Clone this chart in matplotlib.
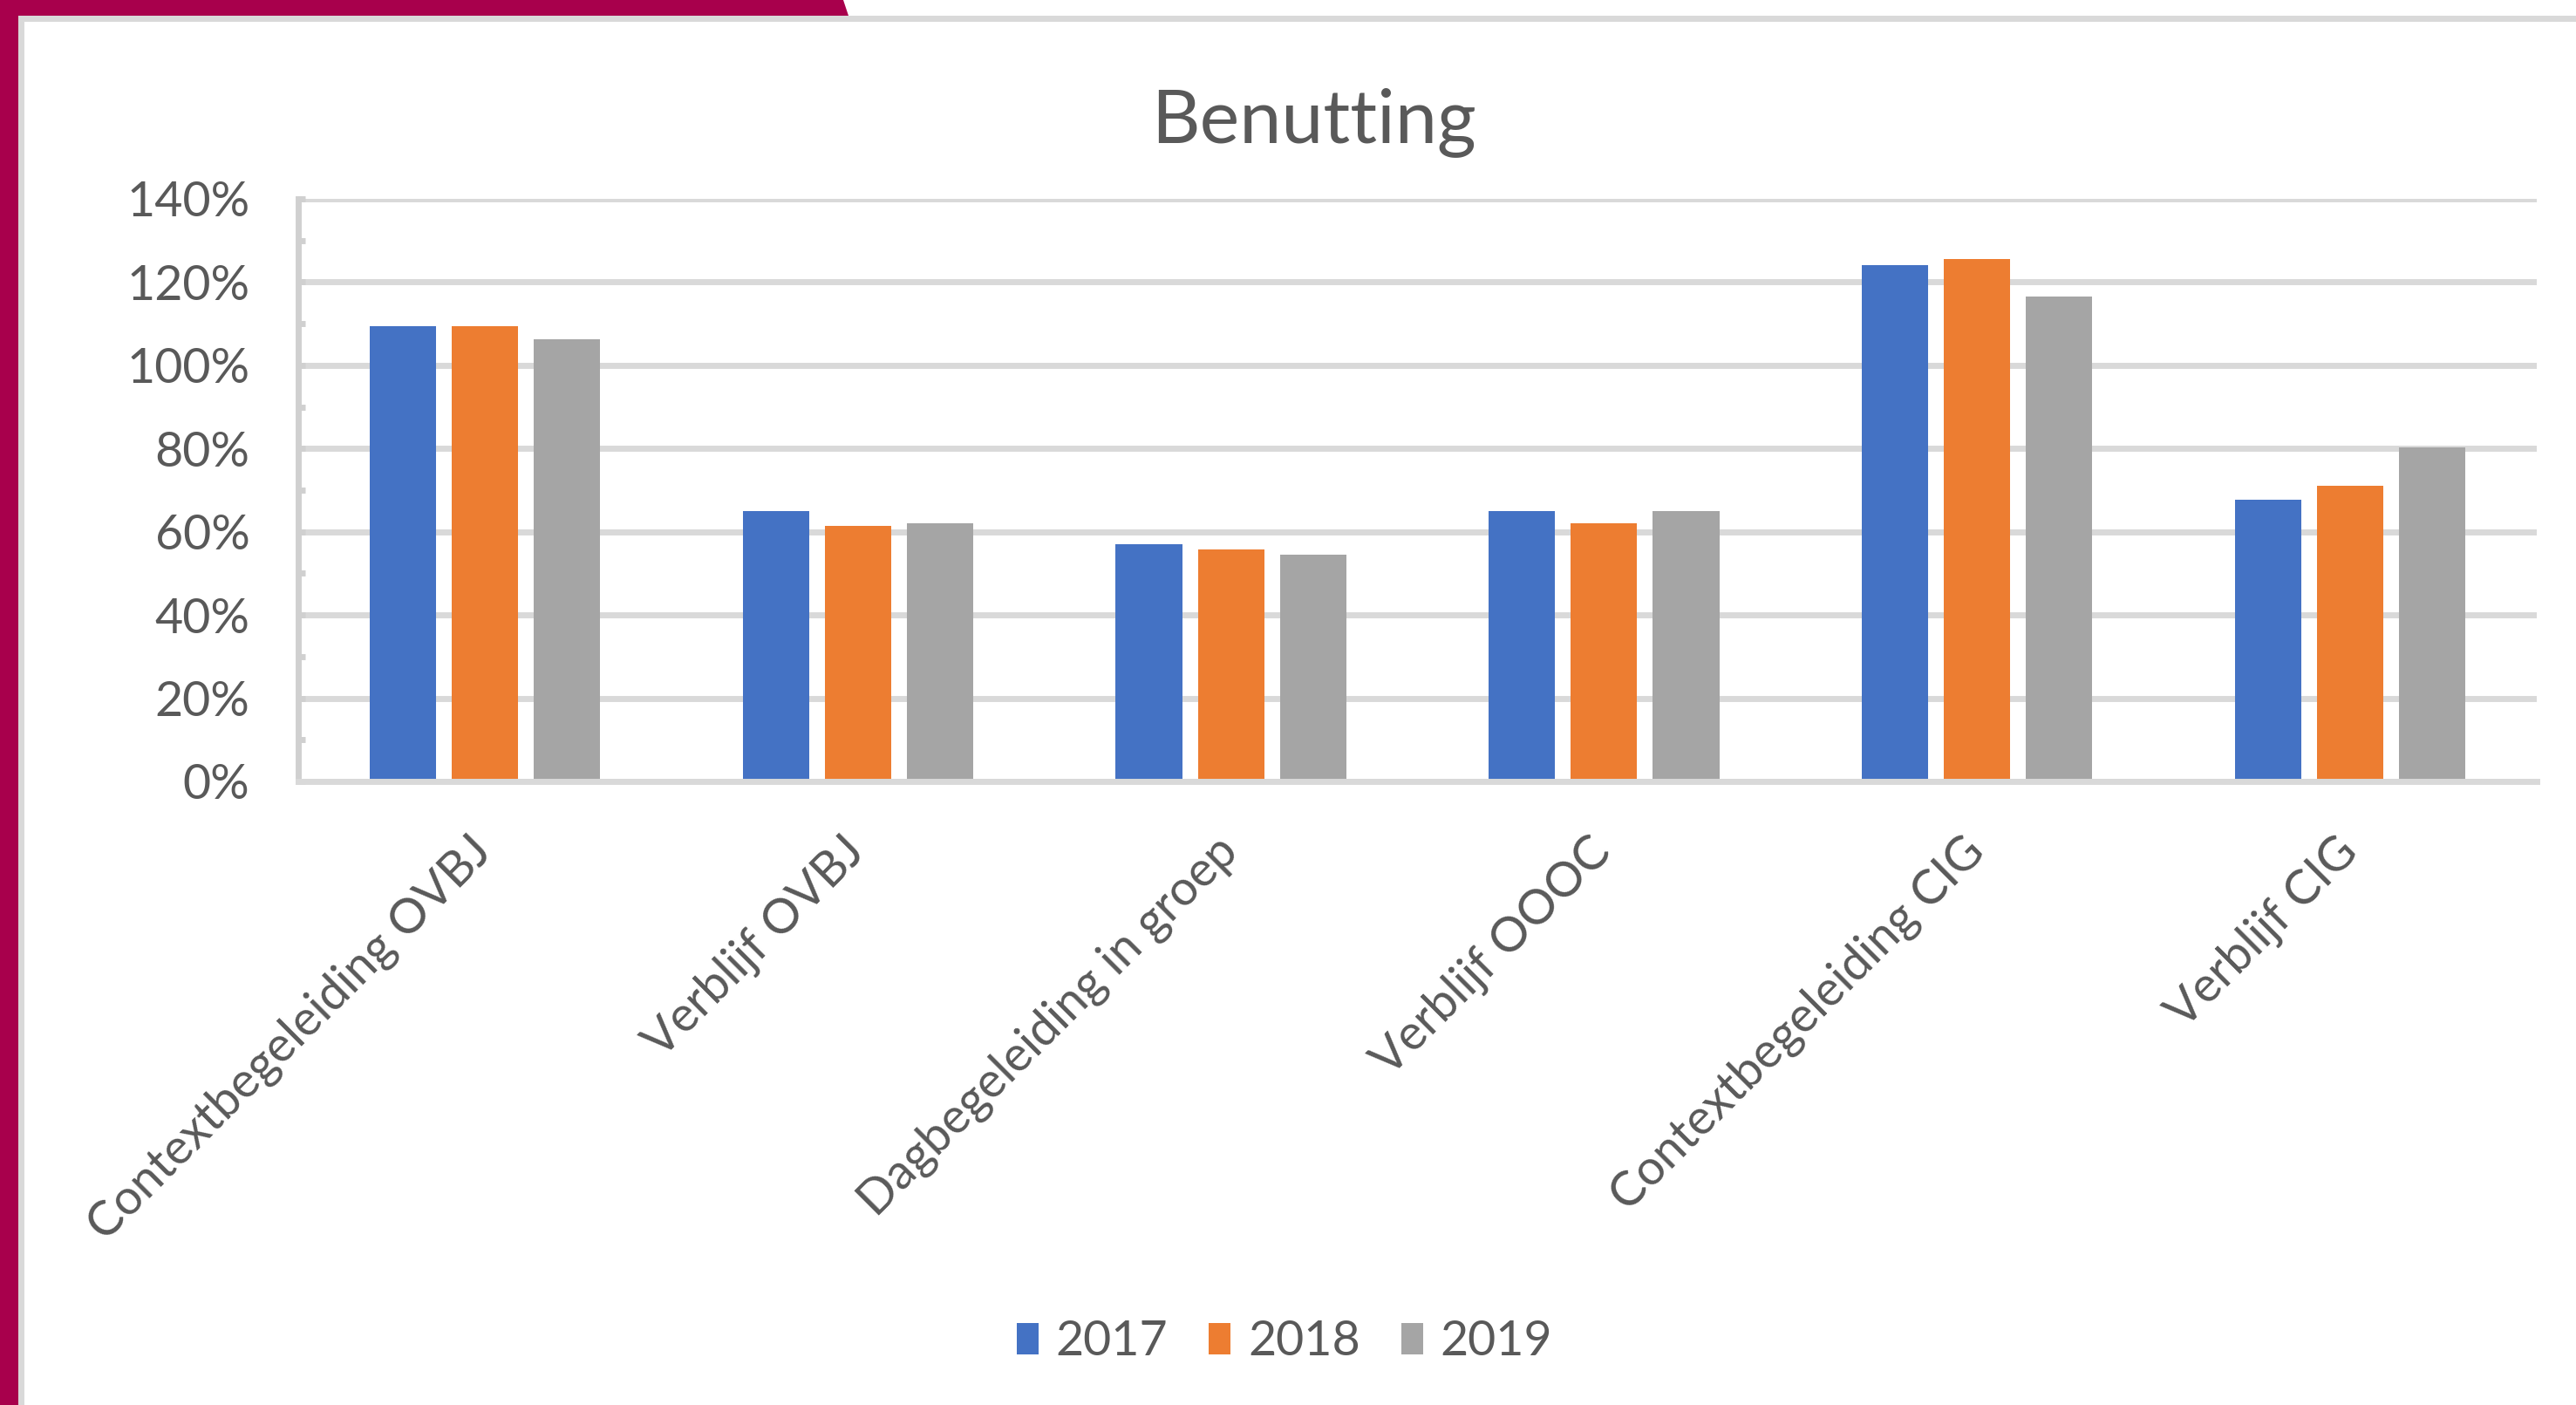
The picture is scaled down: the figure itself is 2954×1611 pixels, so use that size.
import numpy as np
import matplotlib
matplotlib.use('Agg')
import matplotlib.pyplot as plt
from matplotlib.patches import Rectangle, Polygon
from matplotlib.ticker import PercentFormatter, MultipleLocator

# data
categories = ['Contextbegeleiding OVBJ', 'Verblijf OVBJ', 'Dagbegeleiding in groep',
              'Verblijf OOOC', 'Contextbegeleiding CIG', 'Verblijf CIG']
years = ['2017', '2018', '2019']
values_2017 = [1.095, 0.649, 0.571, 0.649, 1.241, 0.676]
values_2018 = [1.095, 0.614, 0.557, 0.620, 1.255, 0.710]
values_2019 = [1.062, 0.620, 0.544, 0.649, 1.166, 0.802]
colors = ['#4472C4', '#ED7D31', '#A5A5A5']

text_col = '#595959'
grid_col = '#D9D9D9'
magenta = '#A8004C'

plt.rcParams['font.family'] = ['Lato', 'DejaVu Sans']

W, H, DPI = 2954, 1611, 200
fig = plt.figure(figsize=(W / DPI, H / DPI), dpi=DPI)
fig.patch.set_facecolor('white')

# slide background: magenta band + chart border
fig.patches.append(Rectangle((0, 0), 21 / W, 1, transform=fig.transFigure,
                             facecolor=magenta, edgecolor='none', zorder=0))
fig.patches.append(Polygon([(0, 1), (967 / W, 1), (973 / W, 1 - 18 / H), (0, 1 - 18 / H)],
                           closed=True, transform=fig.transFigure,
                           facecolor=magenta, edgecolor='none', zorder=0))
fig.patches.append(Rectangle((21 / W, 0), 7 / W, 1 - 18 / H, transform=fig.transFigure,
                             facecolor=grid_col, edgecolor='none', zorder=1))
fig.patches.append(Rectangle((21 / W, 1 - 25 / H), 1, 7 / H, transform=fig.transFigure,
                             facecolor=grid_col, edgecolor='none', zorder=1))

ax = fig.add_axes([342 / W, 1 - 896 / H, (2909 - 342) / W, (896 - 228) / H])

x = np.arange(len(categories))
pitch = 0.22
bw = 0.178
series = [values_2017, values_2018, values_2019]
for i, (yr, vals) in enumerate(zip(years, series)):
    ax.bar(x + (i - 1) * pitch, vals, width=bw, color=colors[i], label=yr, zorder=3)

ax.set_xlim(-0.5, len(categories) - 0.5)
ax.set_ylim(0, 1.4)
ax.yaxis.set_major_locator(MultipleLocator(0.2))
ax.yaxis.set_minor_locator(MultipleLocator(0.1))
ax.yaxis.set_major_formatter(PercentFormatter(1.0, decimals=0))
ax.grid(axis='y', color=grid_col, linewidth=2.5, zorder=0)
ax.set_axisbelow(True)

for s in ['top', 'right']:
    ax.spines[s].set_visible(False)
ax.spines['left'].set_color('#D0D0D0')
ax.spines['left'].set_linewidth(2.5)
ax.spines['bottom'].set_color(grid_col)
ax.spines['bottom'].set_linewidth(2.5)
ax.spines['bottom'].set_zorder(4)

ax.tick_params(axis='y', which='both', direction='in', length=3, width=2.5,
               color='#D0D0D0', labelsize=20, labelcolor=text_col, pad=20)
ax.tick_params(axis='x', length=0, labelsize=20, labelcolor=text_col, pad=26)
ax.set_xticks(x)
ax.set_xticklabels(categories, rotation=45, ha='right', va='center', rotation_mode='anchor')

fig.text(1506 / W, 1 - 163 / H, 'Benutting', ha='center', va='baseline',
         fontsize=31, color=text_col)

leg = fig.legend(loc='center', bbox_to_anchor=(1473 / W, 1 - 1539 / H), ncol=3,
                 frameon=False, fontsize=20, handlelength=0.45, handleheight=0.6,
                 handletextpad=0.35, columnspacing=0.85)
for t in leg.get_texts():
    t.set_color(text_col)

fig.savefig('out.png', dpi=DPI, facecolor='white')
